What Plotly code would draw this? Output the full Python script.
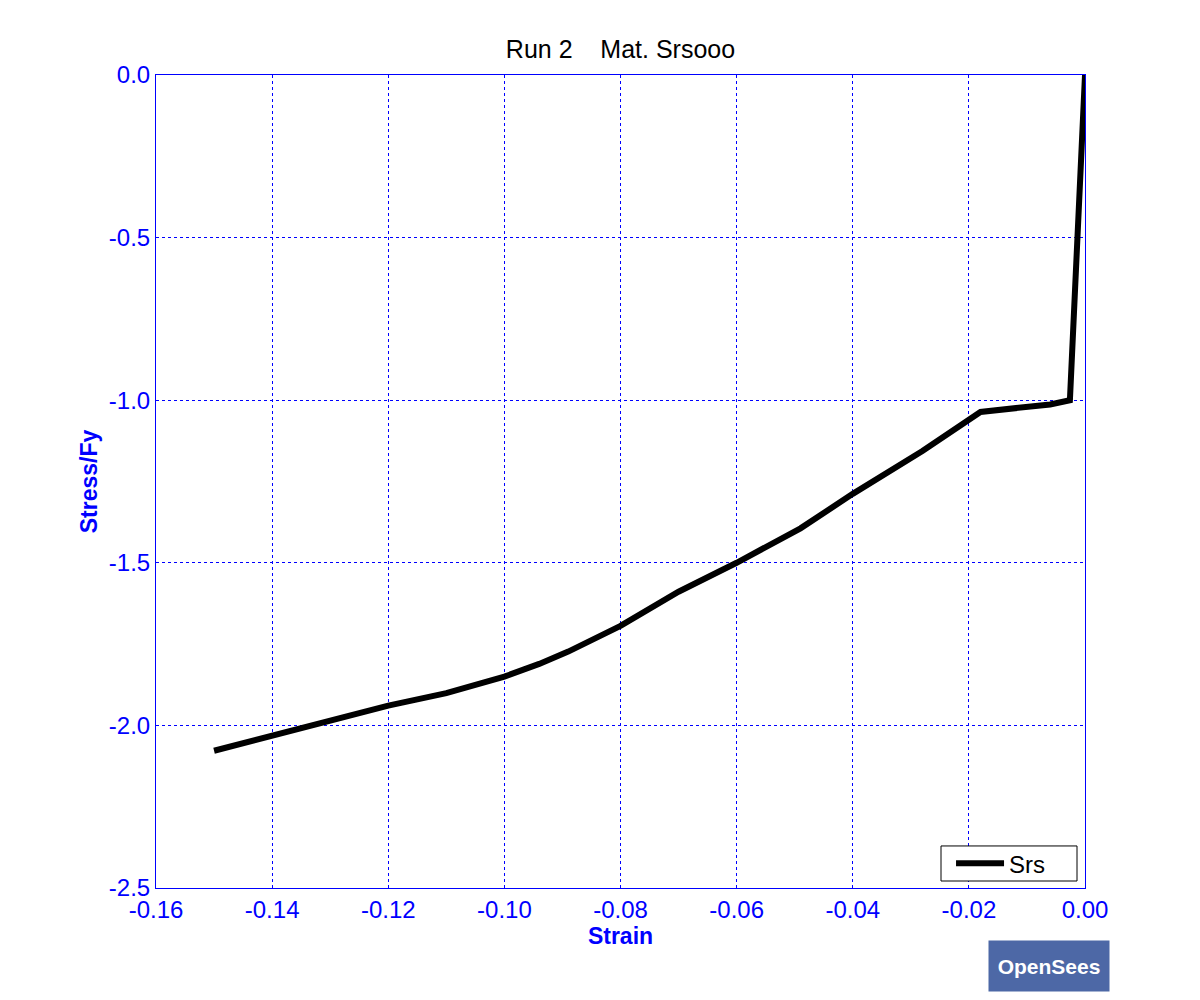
import plotly.graph_objects as go

strain = [0.0, -0.0026, -0.006, -0.018, -0.028, -0.040, -0.049, -0.060, -0.070,
          -0.080, -0.089, -0.094, -0.100, -0.110, -0.120, -0.1335, -0.140, -0.150]
stress = [0.0, -1.0, -1.013, -1.036, -1.156, -1.288, -1.394, -1.500, -1.589,
          -1.694, -1.773, -1.811, -1.850, -1.901, -1.939, -2.0, -2.032, -2.078]

xticks = [-0.16, -0.14, -0.12, -0.10, -0.08, -0.06, -0.04, -0.02, 0.00]
xticklabels = ["-0.16", "-0.14", "-0.12", "-0.10", "-0.08", "-0.06", "-0.04", "-0.02", "0.00"]
yticks = [0.0, -0.5, -1.0, -1.5, -2.0, -2.5]
yticklabels = ["0.0", "-0.5", "-1.0", "-1.5", "-2.0", "-2.5"]

BLUE = "#0000FF"
FONT = "Liberation Sans, Arial, sans-serif"

fig = go.Figure()
fig.add_trace(go.Scatter(x=strain, y=stress, mode="lines", name="Srs",
                         line=dict(color="black", width=6)))

axis_common = dict(
    showline=True, linecolor=BLUE, linewidth=1, mirror=True,
    showgrid=True, gridcolor=BLUE, gridwidth=1, griddash="3px,3px",
    zeroline=False, ticks="", tickfont=dict(family=FONT, size=24, color=BLUE),
)

fig.update_layout(
    width=1200, height=1000,
    paper_bgcolor="white", plot_bgcolor="white",
    margin=dict(l=148, r=123, t=67, b=120),
    title=dict(text="Run 2    Mat. Srsooo", x=0.5, xanchor="center", xref="paper",
               y=1 - 41 / 1000, yanchor="middle",
               font=dict(family=FONT, size=25, color="black")),
    xaxis=dict(range=[-0.16, 0.0], tickmode="array", tickvals=xticks, ticktext=xticklabels,
               title=dict(text="<b>Strain</b>", font=dict(family=FONT, size=23, color=BLUE), standoff=4),
               **axis_common),
    yaxis=dict(range=[-2.5, 0.0], tickmode="array", tickvals=yticks, ticktext=yticklabels,
               title=dict(text="<b>Stress/Fy</b>", font=dict(family=FONT, size=23, color=BLUE), standoff=4),
               **axis_common),
    showlegend=True,
    legend=dict(x=0.8558, y=0.0301, xanchor="left", yanchor="middle",
                bgcolor="rgba(0,0,0,0)", borderwidth=0,
                font=dict(family=FONT, size=24, color="black"), itemwidth=48),
)

# legend frame
fig.add_shape(type="rect", xref="paper", yref="paper", x0=0.845, x1=0.9914, y0=0.0086, y1=0.0517,
              line=dict(color="black", width=1), fillcolor="white", layer="above")

fig.add_annotation(xref="paper", yref="paper", x=1.027, y=-0.064, xanchor="right", yanchor="top",
                   text="<b>OpenSees</b>", showarrow=False, width=112, height=42,
                   font=dict(family=FONT, size=21, color="white"),
                   bgcolor="#4d68a6", borderpad=4)

fig.write_html("out.html")
